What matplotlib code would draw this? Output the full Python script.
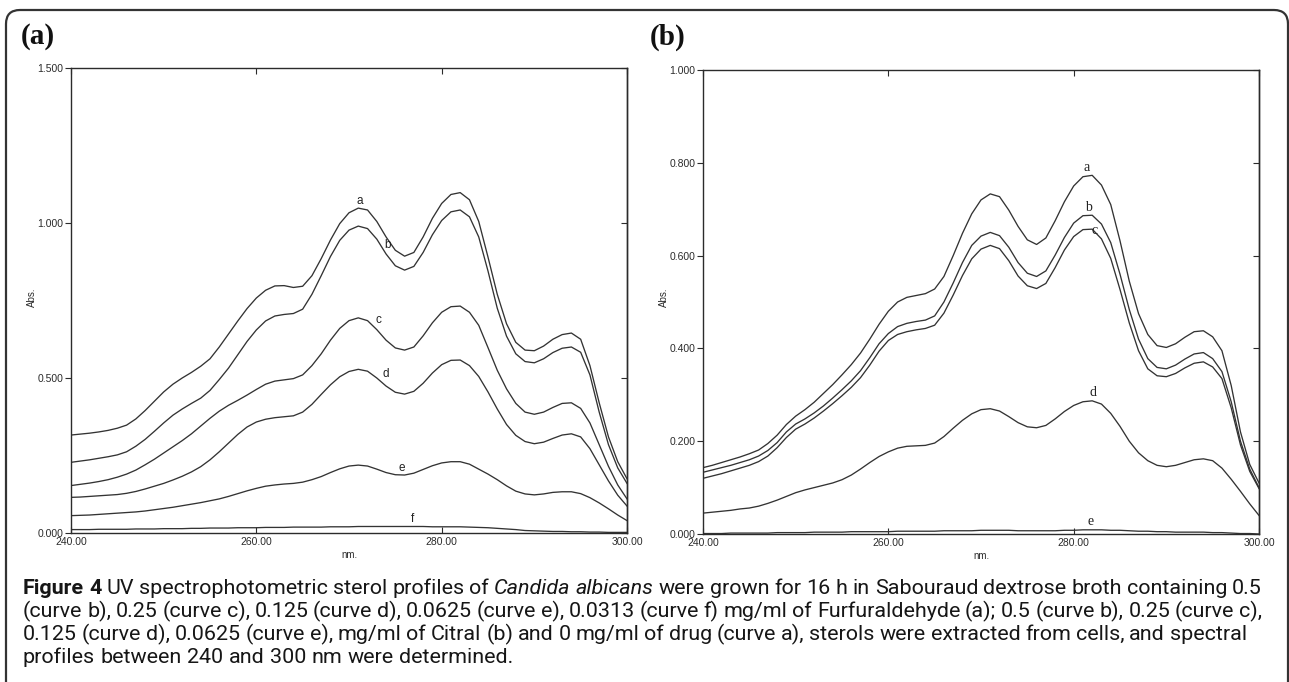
import numpy as np
import matplotlib
matplotlib.use("Agg")
import matplotlib.pyplot as plt
from matplotlib.patches import FancyBboxPatch
from matplotlib.transforms import IdentityTransform
from matplotlib import font_manager
from matplotlib.font_manager import FontProperties

# ---------------- data ----------------
WAVELENGTH = list(range(240, 301))          # nm
X_TICKS = [240, 260, 280, 300]
Y_TICKS_A = [0.0, 0.5, 1.0, 1.5]
Y_TICKS_B = [0.0, 0.2, 0.4, 0.6, 0.8, 1.0]

# panel (a): Furfuraldehyde
A_a = [0.316, 0.319, 0.322, 0.326, 0.331, 0.338, 0.348, 0.368, 0.395, 0.425,
       0.455, 0.480, 0.500, 0.518, 0.538, 0.562, 0.600, 0.642, 0.684, 0.724,
       0.758, 0.783, 0.797, 0.798, 0.792, 0.796, 0.830, 0.885, 0.945, 0.998,
       1.033, 1.048, 1.042, 1.005, 0.955, 0.912, 0.893, 0.905, 0.955, 1.015,
       1.063, 1.092, 1.098, 1.075, 1.005, 0.890, 0.770, 0.675, 0.615, 0.590,
       0.588, 0.603, 0.625, 0.640, 0.645, 0.625, 0.540, 0.420, 0.310, 0.230,
       0.175]
A_b = [0.228, 0.232, 0.236, 0.241, 0.246, 0.252, 0.262, 0.280, 0.302, 0.328,
       0.355, 0.380, 0.400, 0.418, 0.435, 0.460, 0.495, 0.532, 0.575, 0.618,
       0.655, 0.684, 0.700, 0.705, 0.708, 0.722, 0.770, 0.830, 0.892, 0.944,
       0.977, 0.990, 0.982, 0.948, 0.900, 0.862, 0.848, 0.860, 0.905, 0.962,
       1.008, 1.036, 1.042, 1.020, 0.955, 0.845, 0.725, 0.635, 0.578, 0.553,
       0.549, 0.562, 0.582, 0.596, 0.600, 0.583, 0.510, 0.390, 0.285, 0.210,
       0.160]
A_c = [0.153, 0.157, 0.161, 0.166, 0.172, 0.180, 0.190, 0.203, 0.220, 0.238,
       0.258, 0.278, 0.298, 0.320, 0.345, 0.370, 0.393, 0.412, 0.428, 0.445,
       0.463, 0.480, 0.490, 0.494, 0.498, 0.510, 0.540, 0.578, 0.622, 0.660,
       0.685, 0.694, 0.685, 0.656, 0.622, 0.597, 0.590, 0.600, 0.636, 0.678,
       0.712, 0.730, 0.732, 0.712, 0.670, 0.598, 0.525, 0.465, 0.418, 0.390,
       0.383, 0.390, 0.405, 0.418, 0.420, 0.402, 0.355, 0.285, 0.215, 0.155,
       0.110]
A_d = [0.115, 0.116, 0.118, 0.120, 0.122, 0.124, 0.128, 0.134, 0.142, 0.151,
       0.160, 0.171, 0.183, 0.197, 0.214, 0.236, 0.262, 0.290, 0.318, 0.342,
       0.358, 0.367, 0.372, 0.375, 0.378, 0.390, 0.415, 0.447, 0.478, 0.504,
       0.521, 0.528, 0.522, 0.500, 0.474, 0.454, 0.448, 0.457, 0.483, 0.516,
       0.543, 0.557, 0.558, 0.540, 0.505, 0.455, 0.400, 0.350, 0.315, 0.295,
       0.288, 0.293, 0.305, 0.316, 0.320, 0.310, 0.272, 0.220, 0.168, 0.122,
       0.087]
A_e = [0.056, 0.057, 0.058, 0.060, 0.062, 0.064, 0.066, 0.068, 0.071, 0.075,
       0.079, 0.083, 0.088, 0.093, 0.098, 0.104, 0.110, 0.118, 0.127, 0.136,
       0.144, 0.151, 0.155, 0.158, 0.160, 0.164, 0.172, 0.182, 0.195, 0.207,
       0.216, 0.219, 0.216, 0.206, 0.195, 0.188, 0.187, 0.193, 0.205, 0.217,
       0.226, 0.230, 0.230, 0.222, 0.206, 0.190, 0.172, 0.152, 0.135, 0.126,
       0.123, 0.126, 0.131, 0.133, 0.133, 0.127, 0.114, 0.097, 0.078, 0.058,
       0.040]
A_f = [0.011, 0.011, 0.011, 0.012, 0.012, 0.012, 0.012, 0.013, 0.013, 0.013,
       0.014, 0.014, 0.014, 0.015, 0.015, 0.016, 0.016, 0.016, 0.017, 0.017,
       0.017, 0.018, 0.018, 0.018, 0.019, 0.019, 0.019, 0.019, 0.020, 0.020,
       0.020, 0.021, 0.021, 0.021, 0.021, 0.021, 0.021, 0.021, 0.021, 0.020,
       0.020, 0.020, 0.020, 0.019, 0.018, 0.017, 0.015, 0.013, 0.011, 0.008,
       0.007, 0.006, 0.005, 0.005, 0.004, 0.004, 0.003, 0.003, 0.002, 0.002,
       0.002]

# panel (b): Citral
B_a = [0.143, 0.148, 0.154, 0.160, 0.166, 0.173, 0.181, 0.195, 0.213, 0.236,
       0.254, 0.268, 0.284, 0.303, 0.322, 0.343, 0.365, 0.390, 0.420, 0.452,
       0.480, 0.500, 0.510, 0.514, 0.518, 0.528, 0.555, 0.600, 0.648, 0.690,
       0.720, 0.733, 0.727, 0.698, 0.663, 0.634, 0.624, 0.638, 0.675, 0.716,
       0.750, 0.770, 0.773, 0.752, 0.710, 0.632, 0.545, 0.475, 0.430, 0.406,
       0.402, 0.410, 0.424, 0.436, 0.438, 0.425, 0.395, 0.320, 0.220, 0.150,
       0.110]
B_b = [0.133, 0.138, 0.143, 0.148, 0.154, 0.160, 0.168, 0.180, 0.197, 0.220,
       0.237, 0.248, 0.261, 0.276, 0.293, 0.311, 0.330, 0.352, 0.380, 0.410,
       0.432, 0.447, 0.454, 0.458, 0.461, 0.470, 0.500, 0.541, 0.585, 0.622,
       0.642, 0.650, 0.643, 0.618, 0.585, 0.562, 0.555, 0.567, 0.601, 0.639,
       0.670, 0.686, 0.687, 0.668, 0.628, 0.560, 0.484, 0.420, 0.378, 0.359,
       0.356, 0.364, 0.377, 0.388, 0.391, 0.378, 0.350, 0.285, 0.200, 0.140,
       0.100]
B_c = [0.120, 0.125, 0.130, 0.136, 0.142, 0.148, 0.156, 0.168, 0.186, 0.208,
       0.226, 0.237, 0.250, 0.265, 0.281, 0.298, 0.316, 0.337, 0.364, 0.394,
       0.417, 0.430, 0.436, 0.440, 0.443, 0.450, 0.476, 0.515, 0.557, 0.593,
       0.614, 0.622, 0.615, 0.589, 0.556, 0.535, 0.529, 0.540, 0.574, 0.612,
       0.641, 0.656, 0.657, 0.636, 0.594, 0.527, 0.455, 0.395, 0.356, 0.341,
       0.339, 0.346, 0.358, 0.368, 0.371, 0.360, 0.335, 0.272, 0.192, 0.135,
       0.098]
B_d = [0.045, 0.047, 0.049, 0.051, 0.054, 0.056, 0.060, 0.066, 0.073, 0.081,
       0.089, 0.095, 0.100, 0.105, 0.110, 0.117, 0.127, 0.140, 0.154, 0.167,
       0.177, 0.185, 0.189, 0.190, 0.191, 0.196, 0.210, 0.228, 0.245, 0.259,
       0.268, 0.270, 0.265, 0.253, 0.240, 0.231, 0.229, 0.234, 0.248, 0.264,
       0.277, 0.285, 0.287, 0.280, 0.260, 0.232, 0.200, 0.175, 0.158, 0.148,
       0.145, 0.148, 0.154, 0.160, 0.162, 0.158, 0.142, 0.118, 0.092, 0.065,
       0.040]
B_e = [0.001, 0.001, 0.001, 0.002, 0.002, 0.002, 0.002, 0.002, 0.003, 0.003,
       0.003, 0.003, 0.004, 0.004, 0.004, 0.004, 0.005, 0.005, 0.005, 0.005,
       0.005, 0.006, 0.006, 0.006, 0.006, 0.006, 0.007, 0.007, 0.007, 0.007,
       0.008, 0.008, 0.008, 0.008, 0.007, 0.007, 0.007, 0.007, 0.007, 0.008,
       0.008, 0.009, 0.009, 0.009, 0.008, 0.008, 0.007, 0.006, 0.006, 0.005,
       0.005, 0.004, 0.004, 0.004, 0.004, 0.003, 0.003, 0.002, 0.001, 0.001,
       0.000]

CURVES_A = {"a": A_a, "b": A_b, "c": A_c, "d": A_d, "e": A_e, "f": A_f}
CURVES_B = {"a": B_a, "b": B_b, "c": B_c, "d": B_d, "e": B_e}
for series in list(CURVES_A.values()) + list(CURVES_B.values()):
    assert len(series) == len(WAVELENGTH)

CAPTION_LINES = [
    [("Figure 4", "bold"), ("UV spectrophotometric sterol profiles of", "normal"),
     ("Candida albicans", "italic"),
     ("were grown for 16 h in Sabouraud dextrose broth containing 0.5", "normal")],
    [("(curve b), 0.25 (curve c), 0.125 (curve d), 0.0625 (curve e), 0.0313 (curve f) mg/ml of "
      "Furfuraldehyde (a); 0.5 (curve b), 0.25 (curve c),", "normal")],
    [("0.125 (curve d), 0.0625 (curve e), mg/ml of Citral (b) and 0 mg/ml of drug (curve a), "
      "sterols were extracted from cells, and spectral", "normal")],
    [("profiles between 240 and 300 nm were determined.", "normal")],
]

# ---------------- fonts ----------------
SANS = "Liberation Sans"
SERIF = "Liberation Serif"


def pick_caption_font():
    for fam in ["Roboto", "Liberation Sans"]:
        try:
            font_manager.findfont(FontProperties(family=fam), fallback_to_default=False)
            return fam
        except Exception:
            continue
    return "DejaVu Sans"


CAP_FAMILY = pick_caption_font()

# ---------------- figure ----------------
W, H = 1289, 682
fig = plt.figure(figsize=(W / 100, H / 100), dpi=100)
fig.patch.set_facecolor("white")

INK = "#2b2b2b"
LINE = "#333333"

# outer rounded frame (right edge falls on the image border as in the source)
frame = FancyBboxPatch((6, -30), 1282, H - 10 + 30,
                       boxstyle="round,pad=0,rounding_size=14",
                       transform=IdentityTransform(), fill=False,
                       lw=1.6, ec="#333333")
fig.add_artist(frame)


def make_panel(rect, curves, yticks, label_font, label_size, label_pos):
    ax = fig.add_axes(rect)
    for key, vals in curves.items():
        ax.plot(WAVELENGTH, vals, color=LINE, lw=0.95, solid_joinstyle="round")
    ax.set_xlim(X_TICKS[0], X_TICKS[-1])
    ax.set_ylim(yticks[0], yticks[-1])
    ax.set_xticks(X_TICKS)
    ax.set_xticklabels([f"{v:.2f}" for v in X_TICKS], fontfamily=SANS, fontsize=7.5)
    ax.set_yticks(yticks)
    ax.set_yticklabels([f"{v:.3f}" for v in yticks], fontfamily=SANS, fontsize=7.5)
    ax.tick_params(axis="x", direction="in", top=True, bottom=True,
                   length=4, width=0.8, color=INK, pad=3, labelcolor=INK)
    ax.tick_params(axis="y", direction="out", left=True, right=False,
                   length=4, width=0.8, color=INK, pad=1.5, labelcolor=INK)
    sec = ax.secondary_yaxis("right")
    sec.set_yticks(yticks)
    sec.tick_params(direction="in", length=4, width=0.8, color=INK, labelright=False)
    sec.spines["right"].set_linewidth(1.0)
    sec.spines["right"].set_color(INK)
    for s in ax.spines.values():
        s.set_linewidth(1.0)
        s.set_color(INK)
    ax.set_xlabel("nm.", fontfamily=SANS, fontsize=7, labelpad=2, color=INK)
    for key, (lx, ly) in label_pos.items():
        ax.text(lx, ly, key, ha="center", va="center", fontfamily=label_font,
                fontsize=label_size, color="#222222")
    return ax


axA = make_panel([71 / W, 1 - 533 / H, 556 / W, 465 / H], CURVES_A, Y_TICKS_A, SANS, 8.5,
                 {"a": (271.2, 1.071), "b": (274.2, 0.929), "c": (273.2, 0.687),
                  "d": (274.0, 0.513), "e": (275.7, 0.21), "f": (276.9, 0.045)})
axB = make_panel([703 / W, 1 - 534 / H, 556 / W, 464 / H], CURVES_B, Y_TICKS_B, SERIF, 10,
                 {"a": (281.4, 0.79), "b": (281.6, 0.704), "c": (282.3, 0.654),
                  "d": (282.1, 0.305), "e": (281.8, 0.026)})

# y-axis titles
fig.text(32 / W, 1 - 297 / H, "Abs.", rotation=90, ha="center", va="center",
         fontfamily=SANS, fontsize=7, color=INK)
fig.text(664 / W, 1 - 297 / H, "Abs.", rotation=90, ha="center", va="center",
         fontfamily=SANS, fontsize=7, color=INK)

# panel letters
fig.text(21 / W, 1 - 37 / H, "(a)", ha="left", va="center", fontfamily=SERIF,
         fontweight="bold", fontsize=21, color="#111111")
fig.text(650 / W, 1 - 37 / H, "(b)", ha="left", va="center", fontfamily=SERIF,
         fontweight="bold", fontsize=21, color="#111111")

# ---------------- caption (justified like the journal layout) ----------------
renderer = fig.canvas.get_renderer()


def cap_fp(style, size):
    return FontProperties(family=CAP_FAMILY, size=size,
                          weight="bold" if style == "bold" else "normal",
                          style="italic" if style == "italic" else "normal")


def words_of(line):
    out = []
    for s, style in line:
        out.extend((w, style) for w in s.split(" "))
    return out


def measure(s, style, size):
    t = fig.text(0, 0, s, fontproperties=cap_fp(style, size))
    w = t.get_window_extent(renderer).width
    t.remove()
    return w


def space_width(size):
    return measure("x x", "normal", size) - measure("xx", "normal", size)


def natural_width(line, size):
    ws = words_of(line)
    return sum(measure(w, st, size) for w, st in ws) + space_width(size) * (len(ws) - 1)


CAP_X0 = 23
CAP_RIGHT = [1262, 1262, 1247, None]
CAP_BASE = 594
CAP_STEP = 23

cap_size = 12 * (CAP_RIGHT[0] - CAP_X0) / natural_width(CAPTION_LINES[0], 12)

for i, line in enumerate(CAPTION_LINES):
    ws = words_of(line)
    widths = [measure(w, st, cap_size) for w, st in ws]
    sp = space_width(cap_size)
    if CAP_RIGHT[i] is not None and len(ws) > 1:
        gap = (CAP_RIGHT[i] - CAP_X0 - sum(widths)) / (len(ws) - 1)
    else:
        gap = sp
    x = CAP_X0
    y = CAP_BASE + i * CAP_STEP
    for (w, st), wd in zip(ws, widths):
        fig.text(x / W, 1 - y / H, w, ha="left", va="baseline",
                 fontproperties=cap_fp(st, cap_size), color="#161616")
        x += wd + gap

fig.savefig("out.png", dpi=100, facecolor="white")
